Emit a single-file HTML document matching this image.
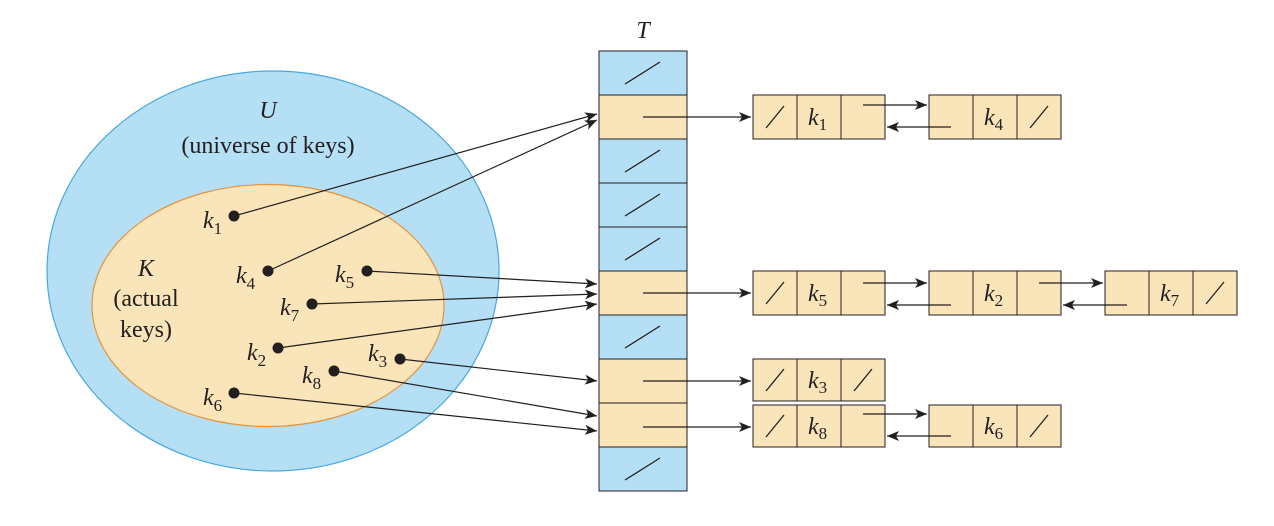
<!DOCTYPE html>
<html><head><meta charset="utf-8"><style>
html,body{margin:0;padding:0;background:#fff;width:1274px;height:526px;overflow:hidden}
text{font-family:"Liberation Serif",serif;fill:#231f20}
.k{font-style:italic;font-size:24px}
.s{font-size:17px;font-style:normal}
</style></head><body>
<svg width="1274" height="526" viewBox="0 0 1274 526" xmlns="http://www.w3.org/2000/svg">
<defs>
<marker id="a" viewBox="0 0 12 10" refX="12" refY="5" markerWidth="12" markerHeight="10" markerUnits="userSpaceOnUse" orient="auto">
<path d="M0,0 L12,5 L0,10 L3,5 Z" fill="#231f20"/></marker>
</defs>
<ellipse cx="273" cy="271" rx="226" ry="200" fill="#b5dff5" stroke="#4aa8e0" stroke-width="1.2"/>
<ellipse cx="268" cy="305.5" rx="176" ry="121" fill="#fae5bb" stroke="#e8923a" stroke-width="1.2"/>
<text x="268" y="118" class="k" text-anchor="middle">U</text>
<text x="268" y="153" font-size="24" text-anchor="middle">(universe of keys)</text>
<text x="146" y="276" class="k" text-anchor="middle">K</text>
<text x="146" y="306" font-size="24" text-anchor="middle">(actual</text>
<text x="146" y="337" font-size="24" text-anchor="middle">keys)</text>
<text x="643" y="38" class="k" text-anchor="middle">T</text>
<!-- table -->
<g stroke="#231f20" stroke-width="1">
<rect x="599" y="51" width="88" height="44" fill="#b5dff5"/>
<rect x="599" y="95" width="88" height="44" fill="#fae5bb"/>
<rect x="599" y="139" width="88" height="44" fill="#b5dff5"/>
<rect x="599" y="183" width="88" height="44" fill="#b5dff5"/>
<rect x="599" y="227" width="88" height="44" fill="#b5dff5"/>
<rect x="599" y="271" width="88" height="44" fill="#fae5bb"/>
<rect x="599" y="315" width="88" height="44" fill="#b5dff5"/>
<rect x="599" y="359" width="88" height="44" fill="#fae5bb"/>
<rect x="599" y="403" width="88" height="44" fill="#fae5bb"/>
<rect x="599" y="447" width="88" height="44" fill="#b5dff5"/>
<path d="M625,84 L660,62 M625,172 L660,150 M625,216 L660,194 M625,260 L660,238 M625,348 L660,326 M625,480 L660,458" stroke-width="1.3"/>
</g>
<!-- nodes -->
<g stroke="#231f20" stroke-width="1" fill="#fae5bb">
<rect x="753" y="95" width="132" height="44"/><path d="M797,95V139M841,95V139"/>
<rect x="929" y="95" width="132" height="44"/><path d="M973,95V139M1017,95V139"/>
<rect x="753" y="271" width="132" height="44"/><path d="M797,271V315M841,271V315"/>
<rect x="929" y="271" width="132" height="44"/><path d="M973,271V315M1017,271V315"/>
<rect x="1105" y="271" width="132" height="44"/><path d="M1149,271V315M1193,271V315"/>
<rect x="753" y="359" width="132" height="42"/><path d="M797,359V401M841,359V401"/>
<rect x="753" y="405" width="132" height="42"/><path d="M797,405V447M841,405V447"/>
<rect x="929" y="405" width="132" height="42"/><path d="M973,405V447M1017,405V447"/>
<path fill="none" stroke-width="1.3" d="M766,128L784,106 M1030,128L1048,106 M766,304L784,282 M1206,304L1224,282 M766,391L784,369 M854,391L872,369 M766,437L784,415 M1030,437L1048,415"/>
</g>
<g class="k">
<text x="808" y="125">k<tspan class="s" dy="5">1</tspan></text>
<text x="984" y="125">k<tspan class="s" dy="5">4</tspan></text>
<text x="808" y="301">k<tspan class="s" dy="5">5</tspan></text>
<text x="984" y="301">k<tspan class="s" dy="5">2</tspan></text>
<text x="1160" y="301">k<tspan class="s" dy="5">7</tspan></text>
<text x="808" y="388">k<tspan class="s" dy="5">3</tspan></text>
<text x="808" y="434">k<tspan class="s" dy="5">8</tspan></text>
<text x="984" y="434">k<tspan class="s" dy="5">6</tspan></text>
</g>
<!-- arrows -->
<g stroke="#231f20" stroke-width="1.2" fill="none" marker-end="url(#a)">
<path d="M643,117H751"/><path d="M643,293H751"/><path d="M643,381H751"/><path d="M643,427H751"/>
<path d="M863,105H927"/><path d="M951,127H887"/>
<path d="M863,283H927"/><path d="M951,305H887"/>
<path d="M1039,283H1103"/><path d="M1127,305H1063"/>
<path d="M863,414H927"/><path d="M951,436H887"/>
<path d="M234,216L597,114"/><path d="M268,271L597,120"/>
<path d="M367,271L597,284"/><path d="M312,304L597,294"/><path d="M278,348L597,304"/>
<path d="M400,359L597,381"/><path d="M334,371L597,416"/><path d="M234,393L597,431"/>
</g>
<g fill="#231f20">
<circle cx="234" cy="216" r="5.5"/><circle cx="268" cy="271" r="5.5"/><circle cx="367" cy="271" r="5.5"/>
<circle cx="312" cy="304" r="5.5"/><circle cx="278" cy="348" r="5.5"/><circle cx="400" cy="359" r="5.5"/>
<circle cx="334" cy="371" r="5.5"/><circle cx="234" cy="393" r="5.5"/>
</g>
<g class="k">
<text x="203" y="228">k<tspan class="s" dy="6">1</tspan></text>
<text x="236" y="283">k<tspan class="s" dy="6">4</tspan></text>
<text x="335" y="282">k<tspan class="s" dy="6">5</tspan></text>
<text x="280" y="315">k<tspan class="s" dy="6">7</tspan></text>
<text x="247" y="360">k<tspan class="s" dy="6">2</tspan></text>
<text x="368" y="361">k<tspan class="s" dy="6">3</tspan></text>
<text x="302" y="383">k<tspan class="s" dy="6">8</tspan></text>
<text x="203" y="405">k<tspan class="s" dy="6">6</tspan></text>
</g>
</svg>
</body></html>
